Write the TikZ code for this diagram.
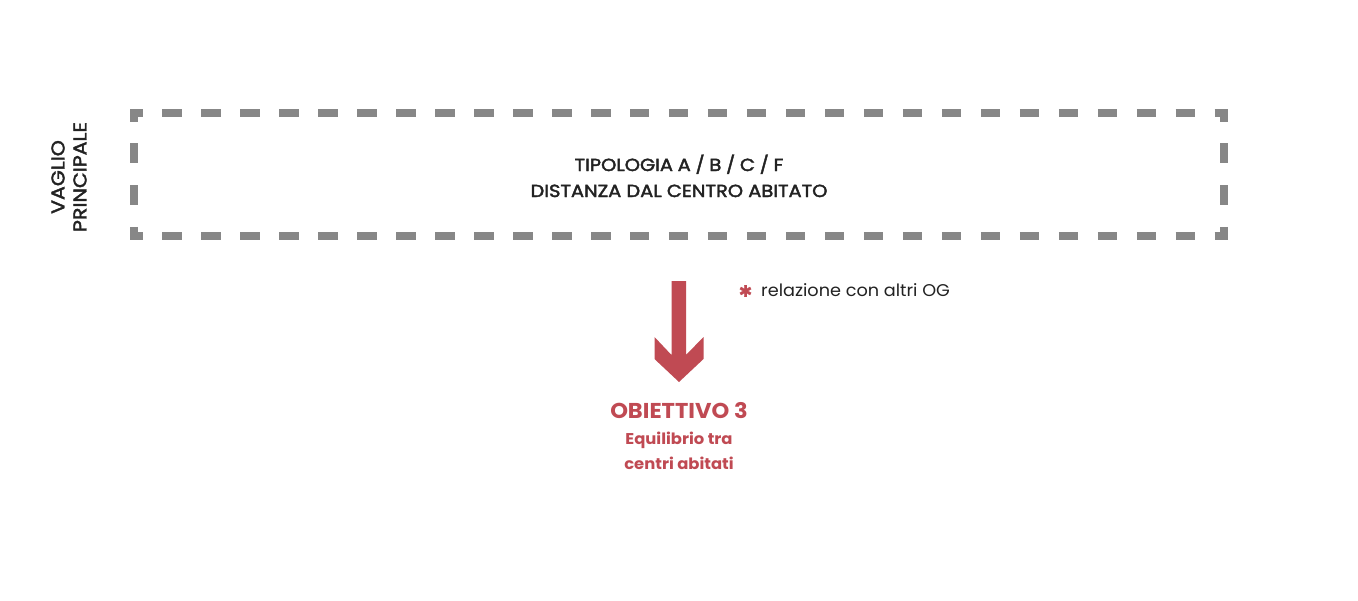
\documentclass[tikz,border=0pt]{standalone}
\usepackage{fontspec}
\setmainfont{Poppins}
\newfontfamily\medfont[FakeBold=2.2,FakeStretch=1.11]{Poppins}
\newfontfamily\regfont[FakeStretch=1.04]{Poppins}
\newfontfamily\boldfont[FakeStretch=1.05]{Poppins Bold}
\newfontfamily\symfont[FakeBold=1.5]{DejaVu Sans}
\definecolor{redc}{HTML}{C04A53}
\definecolor{dashg}{HTML}{878787}
\definecolor{txtc}{HTML}{222222}
\tikzset{
  hside/.style={draw=dashg, line width=7.5pt, dash pattern=on 19.49pt off 19.49pt, dash phase=6.99pt},
  vside/.style={draw=dashg, line width=7.5pt, dash pattern=on 20pt off 21.67pt, dash phase=7.5pt},
  hdr/.style={text=txtc, font=\medfont\fontsize{17.5}{19}\selectfont, inner sep=0pt, anchor=base},
  side/.style={text=txtc, font=\medfont\fontsize{18.5}{22}\selectfont, inner sep=0pt, align=center, rotate=90},
  goal/.style={text=redc, font=\boldfont\fontsize{21.5}{24}\selectfont, inner sep=0pt, anchor=base},
  goalsub/.style={text=redc, font=\boldfont\fontsize{15.6}{18}\selectfont, inner sep=0pt, anchor=base},
  note/.style={text=txtc, font=\regfont\fontsize{17}{19}\selectfont, inner sep=0pt, anchor=base west},
}
\begin{document}
\begin{tikzpicture}[x=1pt,y=-1pt]
\useasboundingbox[fill=white] (0,0) rectangle (1358,600);
% dashed frame
\coordinate (tl) at (130.25,113);
\coordinate (tr) at (1227.75,113);
\coordinate (bl) at (130.25,236);
\coordinate (br) at (1227.75,236);
\draw[hside] (tl) -- (tr);
\draw[hside] (bl) -- (br);
\draw[vside] (134,109.25) -- (134,239.75);
\draw[vside] (1224,109.25) -- (1224,239.75);
% texts in frame
\node[hdr] (t1) at (679,171) {\spaceskip=4.7pt TIPOLOGIA A / B / C / F};
\node[hdr] (t2) at (679,197) {DISTANZA DAL CENTRO ABITATO};
\node[side] (vp) at (69,177) {VAGLIO\\PRINCIPALE};
% arrow
\fill[redc] (671.5,281) -- (686,281) -- (686,355) -- (703.5,337) -- (703.5,359) -- (679,382)
  -- (654.5,359) -- (654.5,337) -- (671.5,355) -- cycle;
% note
\node[text=redc, font=\symfont\fontsize{16}{18}\selectfont, inner sep=0pt] (ast) at (745.5,291) {✱};
\node[note] (nt) at (761,296) {relazione con altri OG};
% goal
\node[goal] (g) at (679,418) {OBIETTIVO 3};
\node[goalsub] (g1) at (679,444) {Equilibrio tra};
\node[goalsub] (g2) at (679,469) {centri abitati};
\end{tikzpicture}
\end{document}
